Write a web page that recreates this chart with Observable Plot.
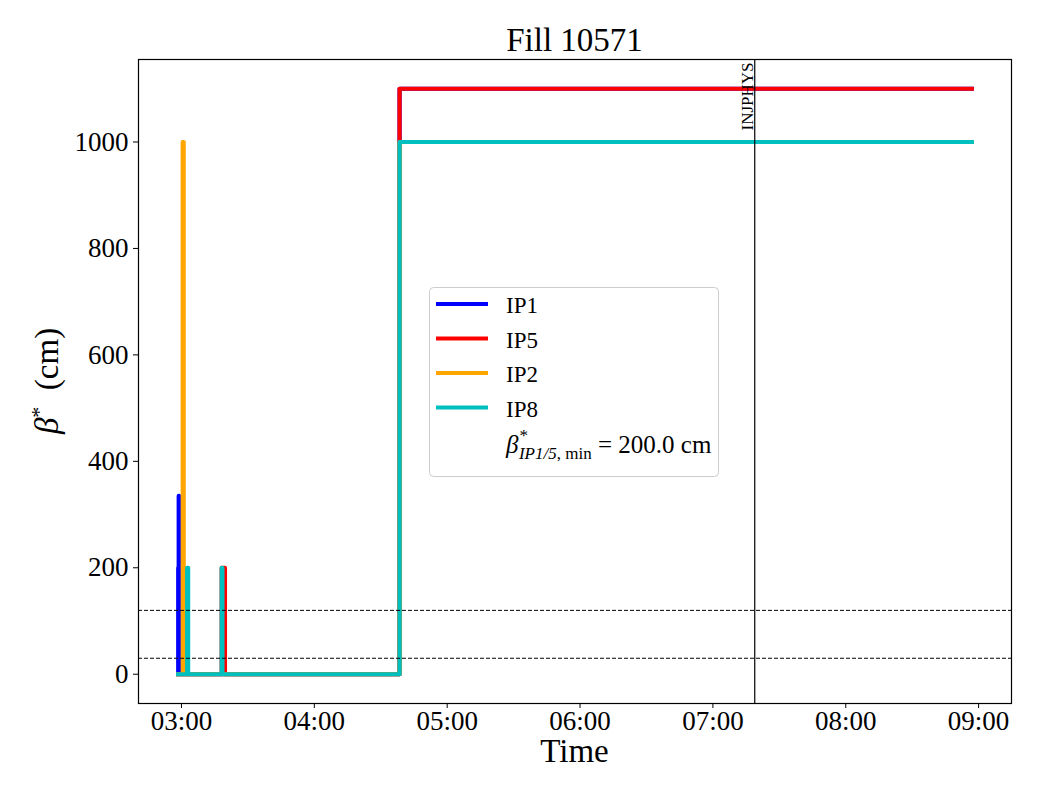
<!DOCTYPE html>
<html>
<head>
<meta charset="utf-8">
<script src="https://cdn.jsdelivr.net/npm/d3@7"></script>
<script src="https://cdn.jsdelivr.net/npm/@observablehq/plot@0.6"></script>
<style>
  body { margin: 0; background: white; }
  #chart { width: 1040px; height: 800px; }
</style>
</head>
<body>
<div id="chart"></div>
<script>
// ---- data ----
const seriesNames = ["IP1", "IP5", "IP2", "IP8"];
const seriesColors = ["#0000ff", "#ff0000", "#ffa500", "#00bfbf"];

const ip1Times  = ["02:58:31", "02:58:32", "02:58:45", "02:58:55", "04:38:30", "08:56:56"];
const ip1Values = [0, 200, 335, 0, 1100, 1100];

const ip5Times  = ["02:58:31", "03:18:10", "03:19:38", "04:38:30", "08:56:56"];
const ip5Values = [0, 200, 0, 1100, 1100];

const ip2Times  = ["02:58:31", "03:00:34", "03:01:00", "04:38:30", "08:56:56"];
const ip2Values = [0, 1000, 0, 1000, 1000];

const ip8Times  = ["02:58:31", "03:02:35", "03:03:00", "03:18:10", "03:18:30", "04:38:30", "08:56:56"];
const ip8Values = [0, 200, 0, 200, 0, 1000, 1000];

const thresholdLines = [120, 30];
const eventTimes = ["07:18:54"];
const eventLabels = ["INJPHYS"];
const yTicks = [0, 200, 400, 600, 800, 1000];
const titleText = "Fill 10571";
const xLabelText = "Time";

// ---- build ----
const parseT = s => { const [h, m, sec] = s.split(":").map(Number); return new Date(Date.UTC(2025, 4, 10, h, m, sec)); };
const seriesTimes = [ip1Times, ip5Times, ip2Times, ip8Times];
const seriesValues = [ip1Values, ip5Values, ip2Values, ip8Values];
const rows = [];
seriesNames.forEach((name, k) => {
  seriesTimes[k].forEach((t, i) => rows.push({series: name, time: parseT(t), value: seriesValues[k][i]}));
});
const events = eventTimes.map((t, i) => ({time: parseT(t), label: eventLabels[i]}));

const [t0, t1] = d3.extent(rows, d => d.time);
const pad = (t1 - t0) * 0.05;
const xDomain = [new Date(+t0 - pad), new Date(+t1 + pad)];
const vMax = d3.max(rows, d => d.value), vMin = d3.min(rows, d => d.value);
const yPad = (vMax - vMin) * 0.05;
const yDomain = [vMin - yPad, vMax + yPad];

const font = "'Liberation Serif', 'Times New Roman', serif";

const chart = Plot.plot({
  width: 1040, height: 800,
  marginLeft: 138, marginRight: 29, marginTop: 59, marginBottom: 97,
  style: {fontFamily: font, fontSize: "27px", background: "white", color: "black", overflow: "visible"},
  x: {type: "utc", domain: xDomain},
  y: {domain: yDomain},
  marks: [
    ...seriesNames.map((name, k) => Plot.line(rows.filter(d => d.series === name), {
      x: "time", y: "value", curve: "step-after",
      stroke: seriesColors[k], strokeWidth: 4.2,
      strokeLinecap: "square", strokeLinejoin: "round"
    })),
    Plot.ruleY(thresholdLines, {stroke: "black", strokeWidth: 1, strokeDasharray: "4,2"}),
    Plot.ruleX(events, {x: "time", stroke: "black", strokeWidth: 1.2}),
    Plot.text(events, {x: "time", text: "label", frameAnchor: "top", rotate: -90,
      textAnchor: "end", lineAnchor: "bottom", fontSize: 17, dx: -2, dy: 3, fill: "black"}),
    Plot.frame({stroke: "black", strokeWidth: 1.2}),
    Plot.axisX({ticks: d3.utcHour.every(1), tickFormat: d3.utcFormat("%H:%M"), label: null,
      tickSize: 5, tickPadding: 2, fontSize: 27}),
    Plot.axisY({ticks: yTicks, tickFormat: d => String(d), label: null, tickSize: 5, tickPadding: 5, fontSize: 27})
  ]
});

document.getElementById("chart").appendChild(chart);

// ---- annotations: title, axis labels, legend ----
const svg = d3.select(chart);
const plotLeft = 138, plotRight = 1040 - 29, plotTop = 59, plotBottom = 800 - 97;
const cx = (plotLeft + plotRight) / 2;

svg.append("text").attr("x", cx).attr("y", 51).attr("text-anchor", "middle")
  .style("font-family", font).style("font-size", "33px").attr("fill", "black").text(titleText);

svg.append("text").attr("x", cx).attr("y", 762).attr("text-anchor", "middle")
  .style("font-family", font).style("font-size", "33px").attr("fill", "black").text(xLabelText);

const yl = svg.append("text")
  .attr("transform", `translate(58, ${(plotTop + plotBottom) / 2}) rotate(-90)`)
  .attr("text-anchor", "middle")
  .style("font-family", font).style("font-size", "33px").attr("fill", "black");
yl.append("tspan").style("font-style", "italic").text("β");
yl.append("tspan").attr("dy", -12).style("font-size", "22px").text("*");
yl.append("tspan").attr("dy", 12).text("  (cm)");

// legend
const lg = svg.append("g").attr("text-anchor", "start");
lg.append("rect").attr("x", 429.5).attr("y", 287.5).attr("width", 289).attr("height", 189)
  .attr("rx", 4).attr("fill", "white").attr("fill-opacity", 0.8)
  .attr("stroke", "#cccccc").attr("stroke-width", 1);
const rowY = [304, 338.5, 373, 407.5];
seriesNames.forEach((name, k) => {
  lg.append("line").attr("x1", 436).attr("x2", 488).attr("y1", rowY[k]).attr("y2", rowY[k])
    .attr("stroke", seriesColors[k]).attr("stroke-width", 4.2);
  lg.append("text").attr("x", 506).attr("y", rowY[k] + 9).attr("text-anchor", "start")
    .style("font-family", font).style("font-size", "23px").attr("fill", "black").text(name);
});
const bt = lg.append("text").attr("x", 506).attr("y", 453).attr("text-anchor", "start")
  .style("font-family", font).style("font-size", "25px").attr("fill", "black");
bt.append("tspan").style("font-style", "italic").text("β");
bt.append("tspan").attr("dy", -12).attr("dx", 1).style("font-size", "17px").text("*");
bt.append("tspan").attr("dy", 18).attr("dx", -9).style("font-size", "17px").style("font-style", "italic").text("IP1/5");
bt.append("tspan").style("font-size", "17px").text(", min");
bt.append("tspan").attr("dy", -6).text(" = 200.0 cm");
</script>
</body>
</html>
